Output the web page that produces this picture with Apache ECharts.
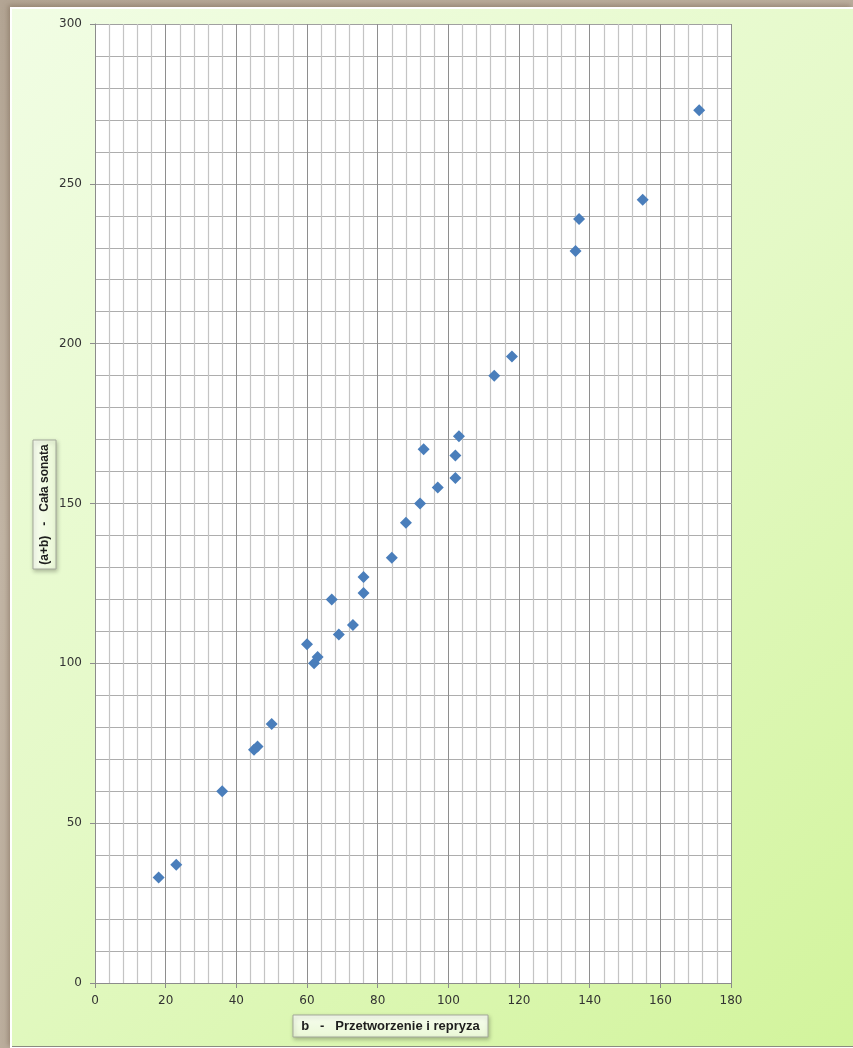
<!DOCTYPE html>
<html>
<head>
<meta charset="utf-8">
<script src="https://cdn.jsdelivr.net/npm/echarts@6/dist/echarts.min.js"></script>
<style>
  html, body { margin: 0; padding: 0; }
  body {
    width: 853px; height: 1048px; overflow: hidden; position: relative;
    background: linear-gradient(160deg, #b3a594 0%, #c2b5a5 40%, #b7a998 100%);
  }
  #frame {
    position: absolute; left: 10px; top: 7px; width: 843px; height: 1041px;
    background: #ffffff;
    box-shadow: -2px -2px 5px rgba(120, 100, 80, 0.5);
  }
  #chart {
    position: absolute; left: 12px; top: 9px; width: 841px; height: 1037px;
    border-bottom: 1px solid #8a8a80;
  }
</style>
</head>
<body>
<div id="frame"></div>
<div id="chart"></div>
<script>
// b: development + recapitulation length; (a+b): whole sonata length
const bValues   = [18, 23, 36, 45, 46, 50, 60, 62, 63, 67, 69, 73, 76, 76, 84, 88, 92, 93, 97, 102, 102, 103, 113, 118, 136, 137, 155, 171];
const abValues  = [33, 37, 60, 73, 74, 81, 106, 100, 102, 120, 109, 112, 122, 127, 133, 144, 150, 167, 155, 158, 165, 171, 190, 196, 229, 239, 245, 273];

const xAxisTitle = 'b   -   Przetworzenie i repryza';
const yAxisTitle = '(a+b)   -   Cała sonata';

const xRange = [0, 180];
const yRange = [0, 300];

const points = bValues.map((b, i) => [b, abValues[i]]);

const chart = echarts.init(document.getElementById('chart'));

const labelStyle = { fontFamily: 'DejaVu Sans', fontSize: 12, color: '#333333' };
const xTitleFont = 'bold 13px "Liberation Sans", "DejaVu Sans", sans-serif';
const yTitleFont = 'bold 12px "Liberation Sans", "DejaVu Sans", sans-serif';

function titleBox(w, h) {
  return {
    type: 'rect',
    shape: { x: -w / 2, y: -h / 2, width: w, height: h },
    style: {
      fill: new echarts.graphic.LinearGradient(0, 0, 0, 1, [
        { offset: 0, color: '#f7fdef' },
        { offset: 1, color: '#eaf8d6' }
      ]),
      stroke: '#a3a89a',
      lineWidth: 1,
      shadowBlur: 4,
      shadowOffsetX: 1,
      shadowOffsetY: 2,
      shadowColor: 'rgba(0,0,0,0.25)'
    }
  };
}

chart.setOption({
  animation: false,
  backgroundColor: new echarts.graphic.LinearGradient(0, 0, 1, 1, [
    { offset: 0, color: '#f1fde4' },
    { offset: 0.5, color: '#e4f9c6' },
    { offset: 1, color: '#d2f49c' }
  ]),
  grid: {
    left: 83, right: 122, top: 15, bottom: 63,
    show: true, backgroundColor: '#ffffff', borderWidth: 0
  },
  xAxis: {
    type: 'value',
    min: xRange[0], max: xRange[1], interval: 20,
    axisLine: { show: true, lineStyle: { color: '#8c8c8c', width: 1 } },
    axisTick: { show: true, length: 5, lineStyle: { color: '#8c8c8c' } },
    axisLabel: Object.assign({ margin: 12 }, labelStyle),
    splitLine: { show: true, lineStyle: { color: '#8e8e8e', width: 1 } },
    minorTick: { show: false, splitNumber: 5 },
    minorSplitLine: { show: true, lineStyle: { color: '#c4c4c4', width: 1.2 } }
  },
  yAxis: {
    type: 'value',
    min: yRange[0], max: yRange[1], interval: 50,
    axisLine: { show: true, lineStyle: { color: '#8c8c8c', width: 1 } },
    axisTick: { show: true, length: 5, lineStyle: { color: '#8c8c8c' } },
    axisLabel: Object.assign({ margin: 13 }, labelStyle),
    splitLine: { show: true, lineStyle: { color: '#a0a0a0', width: 1 } },
    minorTick: { show: false, splitNumber: 5 },
    minorSplitLine: { show: true, lineStyle: { color: '#adadad', width: 1 } }
  },
  series: [{
    type: 'scatter',
    data: points,
    symbol: 'diamond',
    symbolSize: 12,
    itemStyle: { color: '#4a7ebb', opacity: 1 }
  }],
  graphic: [
    {
      type: 'group',
      x: 378.5, y: 1017,
      children: [
        titleBox(195, 22),
        { type: 'text', style: { text: xAxisTitle, x: 0, y: 0, align: 'center', verticalAlign: 'middle', font: xTitleFont, fill: '#1e1e1e' } }
      ]
    },
    {
      type: 'group',
      x: 32.5, y: 495.5,
      rotation: Math.PI / 2,
      children: [
        titleBox(129, 23),
        { type: 'text', style: { text: yAxisTitle, x: 0, y: 0, align: 'center', verticalAlign: 'middle', font: yTitleFont, fill: '#1e1e1e' } }
      ]
    }
  ]
});
</script>
</body>
</html>
